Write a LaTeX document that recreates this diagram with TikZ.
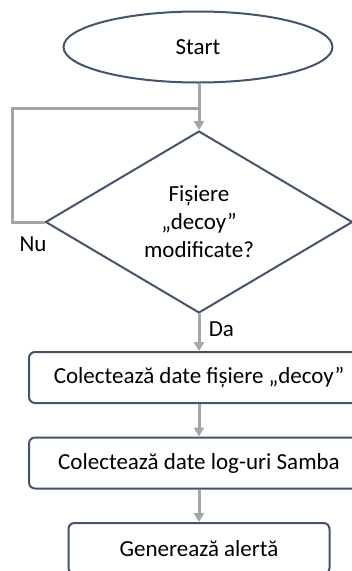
\documentclass[tikz,border=0pt]{standalone}
\usepackage{fontspec}
\setmainfont{Carlito}
\usepackage{tikz}
\usetikzlibrary{positioning,calc,arrows.meta,shapes.geometric}
\definecolor{edgeblue}{HTML}{44546A}
\definecolor{flowgray}{HTML}{A5A5A5}

\begin{document}
\begin{tikzpicture}[x=1pt,y=-1pt,
	font=\fontsize{23}{28}\selectfont,
	startend/.style={ellipse,draw=edgeblue,line width=2pt,minimum width=269pt,minimum height=71pt,inner sep=0pt},
	decision/.style={diamond,draw=edgeblue,line width=2pt,minimum width=307pt,minimum height=160pt,inner sep=0pt,align=center},
	process/.style={rectangle,rounded corners=6pt,draw=edgeblue,line width=2pt,minimum height=51pt,inner sep=0pt},
	flow/.style={draw=flowgray,line width=3pt,-{Triangle[width=10pt,length=9pt]}},
	loopline/.style={draw=flowgray,line width=3pt},
]
		\clip (0,0) rectangle (352,571);

		\node[startend] (start) at (198,47) {Start};
		\node[decision] (dec) at (199,222) {Fișiere\\„decoy”\\modificate?};
		\node[process,minimum width=340pt] (coll1) at (199,377.5) {Colectează date fișiere „decoy”};
		\node[process,minimum width=340pt] (coll2) at (199,463) {Colectează date log-uri Samba};
		\node[process,minimum width=261pt] (alert) at (199,548.5) {Generează alertă};

		\coordinate (join) at (199,108);
		\node (nu) at (33,244) {Nu};

		% loop back when nothing changed
		\path[loopline]
			(dec.west) -- (12,222) |- (join)
		;
		\path
			(start.south -| join) edge[flow] (dec.north)
			(dec.south) edge[flow] node[right=5pt,pos=0.42] (da) {Da} (coll1.north)
			(coll1.south) edge[flow] (coll2.north)
			(coll2.south) edge[flow] (alert.north)
		;
\end{tikzpicture}
\end{document}
